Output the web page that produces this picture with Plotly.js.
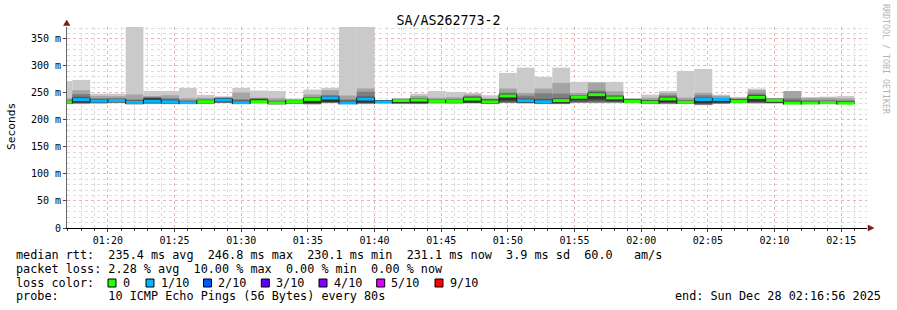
<!DOCTYPE html>
<html><head><meta charset="utf-8">
<script src="https://cdn.plot.ly/plotly-3.0.1.min.js"></script>
<style>html,body{margin:0;padding:0;background:#fff;} #chart{width:897px;height:310px;}</style>
</head><body><div id="chart"></div>
<script>
// ---- data (ms), one value per 80 s probe step ----
const firstStep = '2025-12-28T01:16:00Z';
const stepSeconds = 80;
const xStart = '2025-12-28 01:16:56';
const xEnd = '2025-12-28 02:16:56';

// sorted pings of each round (ping1 = fastest, ping10 = slowest)
const ping1 = [229.0,229.2,230.1,230.8,228.3,229.1,228.9,229.4,229.2,230.9,229.0,230.2,228.1,229.3,228.4,230.7,228.8,229.1,231.0,229.2,229.0,230.1,229.8,230.3,229.1,230.9,230.2,229.0,228.9,231.2,230.8,231.0,231.1,229.0,228.8,229.2,227.1,229.3,230.9,230.1,230.2,229.0,228.9,229.1,229.2];
const ping2 = [229.6,230.0,230.6,231.4,229.0,229.8,229.5,230.0,229.9,231.5,229.6,230.8,228.7,229.9,229.0,231.3,229.5,229.8,231.6,229.8,229.7,230.7,230.4,230.9,229.7,231.5,230.9,229.6,229.5,231.8,231.5,231.6,231.6,229.6,229.5,229.8,227.8,229.9,231.5,230.8,230.8,229.6,229.6,229.7,229.8];
const ping3 = [230.1,230.6,231.2,232.0,229.6,230.4,230.1,230.5,230.5,232.0,230.2,231.3,229.3,230.5,229.6,231.9,230.0,230.4,232.1,230.4,230.3,231.2,231.0,231.5,230.3,232.0,231.5,230.2,230.1,232.4,232.1,232.2,232.1,230.2,230.1,230.4,228.5,230.5,232.0,231.4,231.3,230.1,230.2,230.3,230.3];
const ping4 = [230.6,231.2,231.8,232.5,230.0,230.9,230.6,230.9,231.0,232.4,230.6,231.7,229.8,230.9,230.0,232.4,230.5,231.0,232.4,230.9,230.8,231.7,231.5,231.8,230.7,232.6,231.6,230.5,230.4,233.0,234.1,233.1,232.6,230.6,231.1,230.6,229.1,231.0,232.5,232.0,231.5,230.5,230.6,230.6,230.6];
const ping5 = [231.0,232.4,232.3,233.1,230.4,231.4,231.2,231.2,231.6,233.0,231.0,232.1,230.1,231.3,231.0,233.2,230.8,232.1,232.9,231.2,231.1,232.1,231.9,232.3,231.0,236.0,232.1,231.0,231.1,237.0,238.1,235.0,233.1,231.1,232.6,231.1,231.0,232.1,233.0,234.1,232.0,230.8,230.9,230.9,230.8];
const ping6 = [234.5,240.2,237.3,238.3,234.8,240.0,236.1,234.4,236.3,240.1,234.6,238.0,234.2,236.2,240.3,243.1,234.0,241.3,236.1,238.2,239.1,236.7,236.6,241.2,237.1,247.2,238.2,236.2,238.3,244.1,250.0,243.2,237.6,236.1,242.1,235.2,240.1,240.1,237.6,245.2,238.6,234.1,234.0,234.2,234.0];
const ping7 = [236.0,243.0,238.8,239.2,236.2,241.0,238.1,235.3,237.2,240.5,236.3,239.0,235.2,236.6,241.1,244.2,236.1,243.5,236.3,238.6,239.6,237.2,237.3,243.0,237.9,248.6,240.0,239.0,240.5,245.0,251.6,244.6,238.0,236.6,243.5,236.1,241.5,240.6,238.1,246.0,239.1,236.0,235.1,235.1,235.0];
const ping8 = [237.0,248.0,240.2,240.4,238.0,242.2,240.2,236.3,238.1,241.0,238.2,240.1,236.1,237.1,242.2,246.1,238.0,252.2,236.6,239.1,240.1,238.0,238.2,244.5,238.6,250.6,245.1,249.1,248.6,246.2,254.4,246.1,238.5,237.1,245.7,237.0,245.7,241.1,238.6,249.0,239.6,240.1,237.0,237.1,236.1];
const ping9 = [240.0,255.0,244.5,244.0,247.0,244.3,245.7,240.2,241.0,242.1,250.6,241.2,240.3,238.2,247.0,255.0,245.2,258.3,236.8,239.6,244.5,241.1,242.0,247.1,240.1,258.1,250.0,258.0,268.5,250.0,269.0,253.0,239.1,241.0,250.0,241.2,250.1,244.5,241.0,255.0,240.1,253.5,241.0,241.1,240.1];
const ping10 = [272.0,274.0,248.6,248.6,400.0,253.7,253.7,259.3,246.3,243.9,259.3,254.4,253.7,239.5,256.2,259.3,400.0,400.0,237.0,240.0,248.6,253.7,251.9,250.0,245.7,287.0,296.9,279.6,296.9,270.4,270.4,270.4,240.7,246.9,253.7,290.7,294.4,246.9,242.6,258.0,240.7,253.7,242.0,243.2,244.4];
const median = [233.0,237.6,235.0,236.0,232.4,234.5,233.6,232.0,233.9,236.7,232.1,233.9,231.8,233.9,237.9,240.7,231.5,238.6,233.0,235.8,236.7,234.3,234.3,238.5,233.6,244.4,235.5,233.6,235.8,242.0,246.8,240.7,234.3,232.7,238.8,232.7,237.9,237.9,234.3,241.7,236.1,231.2,231.5,232.1,231.1];
// lost pings out of 10 in each round
const lossCount = [0,1,1,1,1,1,1,1,0,1,1,0,0,0,0,1,1,1,1,0,0,0,0,0,0,0,1,1,0,0,0,0,0,0,0,0,1,1,0,0,0,0,0,0,0];

const lossLevels = [0,1,2,3,4,5,9];
const lossLabels = ['0','1/10','2/10','3/10','4/10','5/10','9/10'];
const lossColors = ['#26ff00','#00b8ff','#0059ff','#5e00ff','#7e00ff','#dd00ff','#ff0000'];
const smokeColors = ['#cacaca','#a4a4a4','#7e7e7e','#585858','#323232'];

const yTickVals = [0,50,100,150,200,250,300,350];
const yTickText = ['0','50 m','100 m','150 m','200 m','250 m','300 m','350 m'];
const xTickLabels = ['01:20','01:25','01:30','01:35','01:40','01:45','01:50','01:55','02:00','02:05','02:10','02:15'];

const legendLines = [
  'median rtt:  235.4 ms avg  246.8 ms max  230.1 ms min  231.1 ms now  3.9 ms sd  60.0   am/s',
  'packet loss: 2.28 % avg  10.00 % max  0.00 % min  0.00 % now',
  'loss color:',
  'probe:       10 ICMP Echo Pings (56 Bytes) every 80s'
];
const endText = 'end: Sun Dec 28 02:16:56 2025';

// ---- build ----
const t0 = Date.parse(firstStep);
const fmt = ms => new Date(ms).toISOString().slice(0,19).replace('T',' ');
const stepTimes = median.map((_, k) => fmt(t0 + k*stepSeconds*1000));
const stepMs = stepSeconds*1000;
const pings = [ping1,ping2,ping3,ping4,ping5,ping6,ping7,ping8,ping9,ping10];

const traces = [];
for (let i = 0; i < 5; i++) {
  const lo = pings[i], hi = pings[9-i];
  traces.push({type:'bar', x: stepTimes, base: lo, y: hi.map((v,k)=>v-lo[k]),
    width: stepMs, offset: 0, marker:{color: smokeColors[i], line:{width:0}}, hoverinfo:'skip'});
}
const halfBand = 2.75;
traces.push({type:'bar', x: stepTimes, base: median.map(m=>m-halfBand), y: median.map(()=>2*halfBand),
  width: stepMs, offset: 0,
  marker:{color: lossCount.map(c => lossColors[lossLevels.indexOf(c)]), line:{width:0}}, hoverinfo:'skip'});
// vertical median connectors at step changes
const cx = [], cy = [];
for (let k = 1; k < median.length; k++) {
  const b = fmt(t0 + k*stepMs);
  cx.push(b, b, null);
  cy.push(Math.min(median[k-1],median[k]) - halfBand, Math.max(median[k-1],median[k]) + halfBand, null);
}
traces.push({type:'scatter', mode:'lines', x: cx, y: cy, line:{color:'#202020', width:1}, hoverinfo:'skip', connectgaps:false});

// pixel -> paper helpers for decorations
const L = 67, R = 867, T = 27, B = 228;
const px = p => (p - L) / (R - L);
const py = p => (B - p) / (B - T);

const mono = 'DejaVu Sans Mono';
const annotations = [];
annotations.push({xref:'paper', yref:'paper', x: px(11), y: py(126), text:'Seconds', textangle:-90, showarrow:false,
  font:{family:mono, size:11.2, color:'#000'}, xanchor:'center', yanchor:'middle'});
annotations.push({xref:'paper', yref:'paper', x: px(886), y: py(59), text:'RRDTOOL / TOBI OETIKER', textangle:90, showarrow:false,
  font:{family:mono, size:8.3, color:'#b4b4b4'}, xanchor:'center', yanchor:'middle'});
const lineY = [255, 268.5, 282.5, 296];
legendLines.forEach((t, i) => {
  annotations.push({xref:'paper', yref:'paper', x: px(15.5), y: py(lineY[i]), text: t.replace(/ /g,'\u00a0'), showarrow:false,
    font:{family:mono, size:11.8, color:'#000'}, xanchor:'left', yanchor:'middle', borderpad:0, borderwidth:0});
});
annotations.push({xref:'paper', yref:'paper', x: px(881), y: py(296), text: endText.replace(/ /g,'\u00a0'), showarrow:false,
  font:{family:mono, size:11.8, color:'#000'}, xanchor:'right', yanchor:'middle', borderpad:0, borderwidth:0});

const shapes = [];
const squareX = [108, 146, 203.5, 261.3, 319, 376.7, 435];
lossLabels.forEach((lab, i) => {
  shapes.push({type:'rect', xref:'paper', yref:'paper', x0: px(squareX[i]), x1: px(squareX[i]+8), y0: py(279), y1: py(287),
    fillcolor: lossColors[i], line:{color:'#000', width:1}});
  annotations.push({xref:'paper', yref:'paper', x: px(squareX[i]+14.5), y: py(lineY[2]), text: lab, showarrow:false,
    font:{family:mono, size:11.8, color:'#000'}, xanchor:'left', yanchor:'middle', borderpad:0, borderwidth:0});
});
// axis arrows
shapes.push({type:'path', xref:'paper', yref:'paper', path:`M ${px(63.5)} ${py(25.5)} L ${px(70)} ${py(25.5)} L ${px(66.7)} ${py(20)} Z`,
  fillcolor:'#7a1a1a', line:{color:'#7a1a1a', width:0.5}});
shapes.push({type:'path', xref:'paper', yref:'paper', path:`M ${px(868)} ${py(225)} L ${px(868)} ${py(231)} L ${px(874)} ${py(228)} Z`,
  fillcolor:'#7a1a1a', line:{color:'#7a1a1a', width:0.5}});

const layout = {
  width: 897, height: 310,
  margin: {l: L, r: 897 - R, t: T, b: 310 - B, pad: 0},
  paper_bgcolor: '#ffffff', plot_bgcolor: '#ffffff',
  showlegend: false, barmode: 'overlay',
  title: {text: 'SA/AS262773-2', x: 0.5, xref: 'container', xanchor: 'center', y: 1 - 20/310, yref: 'container', yanchor: 'middle',
    font: {family: mono, size: 13.3, color: '#000'}},
  xaxis: {type: 'date', range: [xStart, xEnd], tickmode: 'array',
    tickvals: xTickLabels.map(l => '2025-12-28 ' + l + ':00'), ticktext: xTickLabels,
    showgrid: true, gridcolor: '#f2b0b0', griddash: 'dot', gridwidth: 1,
    minor: {tickmode: 'linear', tick0: '2025-12-28 01:20:00', dtick: 60000, showgrid: true, gridcolor: '#dcdcdc', griddash: 'dot', gridwidth: 1,
      ticks: 'outside', ticklen: 2, tickcolor: '#444'},
    ticks: 'outside', ticklen: 3, tickcolor: '#444', showline: true, linecolor: '#000', linewidth: 1, zeroline: false,
    tickfont: {family: mono, size: 10, color: '#000'}, fixedrange: true},
  yaxis: {range: [0, 372], tickmode: 'array', tickvals: yTickVals, ticktext: yTickText,
    showgrid: true, gridcolor: '#f2b0b0', griddash: 'dot', gridwidth: 1,
    minor: {tickmode: 'linear', tick0: 0, dtick: 10, showgrid: true, gridcolor: '#dcdcdc', griddash: 'dot', gridwidth: 1},
    ticks: 'outside', ticklen: 3, tickcolor: '#444', showline: true, linecolor: '#666', linewidth: 1, zeroline: false,
    tickfont: {family: mono, size: 10, color: '#000'}, fixedrange: true},
  annotations, shapes
};
Plotly.newPlot('chart', traces, layout, {staticPlot: true, displayModeBar: false});
</script></body></html>
